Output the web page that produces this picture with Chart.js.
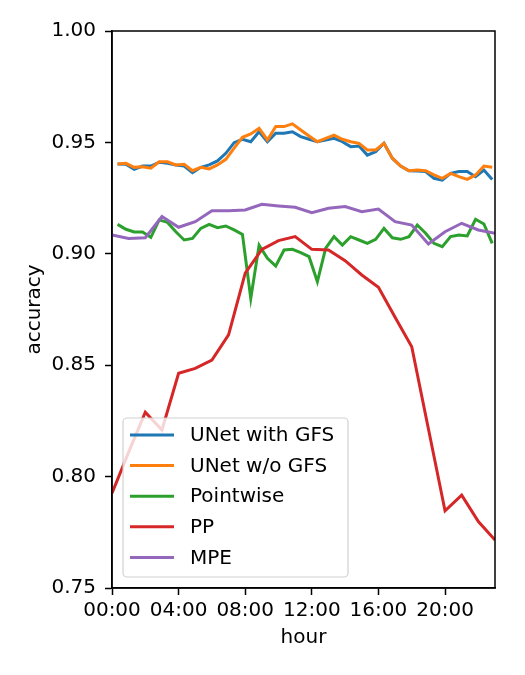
<!DOCTYPE html>
<html>
<head>
<meta charset="utf-8">
<script src="https://cdn.jsdelivr.net/npm/chart.js@4.4.1/dist/chart.umd.min.js"></script>
<style>
    html, body { margin: 0; padding: 0; background: #fff; }
</style>
</head>
<body>
<canvas id="acc-chart" width="525" height="675"></canvas>
<script>
// Zaman etiketleri (UNet / Pointwise yarım saatlik, PP / MPE saatlik)
const halfHourTimes = [
    '00:20', '00:50', '01:20', '01:50', '02:20', '02:50', '03:20', '03:50',
    '04:20', '04:50', '05:20', '05:50', '06:20', '06:50', '07:20', '07:50',
    '08:20', '08:50', '09:20', '09:50', '10:20', '10:50', '11:20', '11:50',
    '12:20', '12:50', '13:20', '13:50', '14:20', '14:50', '15:20', '15:50',
    '16:20', '16:50', '17:20', '17:50', '18:20', '18:50', '19:20', '19:50',
    '20:20', '20:50', '21:20', '21:50', '22:20', '22:50'
];
const hourTimes = [
    '00:00', '01:00', '02:00', '03:00', '04:00', '05:00', '06:00', '07:00',
    '08:00', '09:00', '10:00', '11:00', '12:00', '13:00', '14:00', '15:00',
    '16:00', '17:00', '18:00', '19:00', '20:00', '21:00', '22:00', '23:00'
];

const unetGfs = [
    0.9403, 0.9402, 0.9379, 0.9394, 0.9394, 0.9411, 0.9406, 0.9399,
    0.9394, 0.9364, 0.9388, 0.9399, 0.9417, 0.9451, 0.9499, 0.9514,
    0.9503, 0.9548, 0.9503, 0.9541, 0.9541, 0.9548, 0.9526, 0.9514,
    0.9503, 0.9511, 0.9518, 0.9503, 0.9481, 0.9484, 0.9443, 0.9458,
    0.9496, 0.9429, 0.9394, 0.9373, 0.9372, 0.9369, 0.9339, 0.9331,
    0.9361, 0.9369, 0.9369, 0.9346, 0.9376, 0.9334
];
const unetNoGfs = [
    0.9403, 0.9406, 0.9388, 0.9391, 0.9384, 0.9413, 0.9413, 0.9399,
    0.9402, 0.9373, 0.9388, 0.9381, 0.9399, 0.9424, 0.9474, 0.9523,
    0.9538, 0.9563, 0.9511, 0.9571, 0.9571, 0.9583, 0.9556, 0.9529,
    0.9503, 0.9518, 0.9533, 0.9514, 0.9503, 0.9496, 0.9466, 0.9466,
    0.9496, 0.9429, 0.9394, 0.9373, 0.9376, 0.9373, 0.9354, 0.9339,
    0.9361, 0.9346, 0.9334, 0.9354, 0.9394, 0.9388
];
const pointwise = [
    0.9132, 0.9110, 0.9098, 0.9098, 0.9074, 0.9152, 0.9141, 0.9099,
    0.9062, 0.9069, 0.9114, 0.9132, 0.9117, 0.9125, 0.9107, 0.9087,
    0.8800, 0.9039, 0.8980, 0.8945, 0.9017, 0.9020, 0.9005, 0.8987,
    0.8875, 0.9025, 0.9077, 0.9039, 0.9077, 0.9062, 0.9047, 0.9065,
    0.9114, 0.9072, 0.9065, 0.9077, 0.9129, 0.9092, 0.9047, 0.9032,
    0.9077, 0.9084, 0.9080, 0.9155, 0.9134, 0.9047
];
const pp = [
    0.7925, 0.8110, 0.8289, 0.8209, 0.8464, 0.8486, 0.8523, 0.8636,
    0.8913, 0.9020, 0.9059, 0.9077, 0.9020, 0.9017, 0.8969, 0.8905,
    0.8850, 0.8715, 0.8583, 0.8215, 0.7846, 0.7917, 0.7798, 0.7715
];
const mpe = [
    0.9084, 0.9069, 0.9072, 0.9167, 0.9119, 0.9144, 0.9193, 0.9193,
    0.9197, 0.9222, 0.9215, 0.9209, 0.9185, 0.9204, 0.9212, 0.9189,
    0.9201, 0.9144, 0.9129, 0.9044, 0.9099, 0.9137, 0.9107, 0.9092
];

const xTicks = [0, 4, 8, 12, 16, 20];
const yTicks = [0.75, 0.80, 0.85, 0.90, 0.95, 1.00];

const seriesNames = ['UNet with GFS', 'UNet w/o GFS', 'Pointwise', 'PP', 'MPE'];
const seriesColors = ['#1f77b4', '#ff7f0e', '#2ca02c', '#d62728', '#9467bd'];

function toHours(t) {
    const [h, m] = t.split(':').map(Number);
    return h + m / 60;
}

function toPoints(times, values) {
    return values.map((v, i) => ({ x: toHours(times[i]), y: v }));
}

const FONT = 'DejaVu Sans';

// Çerçeve (üst ve sağ kenar) ve grafik içi lejant
const framePlugin = {
    id: 'frame',
    afterDatasetsDraw(chart) {
        const { ctx, chartArea: a } = chart;
        ctx.save();
        ctx.strokeStyle = '#000';
        ctx.lineWidth = 1.5;
        ctx.strokeRect(a.left, a.top, a.right - a.left, a.bottom - a.top);

        // Lejant - sol alt köşe
        const boxW = 225, boxH = 159;
        const bx = a.left + 11;
        const by = a.bottom - 11 - boxH;
        ctx.beginPath();
        ctx.roundRect(bx, by, boxW, boxH, 4);
        ctx.fillStyle = 'rgba(255,255,255,0.8)';
        ctx.fill();
        ctx.strokeStyle = 'rgba(204,204,204,0.9)';
        ctx.lineWidth = 1.2;
        ctx.stroke();

        ctx.font = '20px "' + FONT + '"';
        ctx.textBaseline = 'middle';
        ctx.textAlign = 'left';
        seriesNames.forEach((name, i) => {
            const ry = by + 17 + i * 30.6;
            ctx.strokeStyle = seriesColors[i];
            ctx.lineWidth = 3;
            ctx.beginPath();
            ctx.moveTo(bx + 7, ry);
            ctx.lineTo(bx + 51, ry);
            ctx.stroke();
            ctx.fillStyle = '#000';
            ctx.fillText(name, bx + 67, ry + 1);
        });
        ctx.restore();
    }
};

const allSeries = [
    toPoints(halfHourTimes, unetGfs),
    toPoints(halfHourTimes, unetNoGfs),
    toPoints(halfHourTimes, pointwise),
    toPoints(hourTimes, pp),
    toPoints(hourTimes, mpe)
];

new Chart(document.getElementById('acc-chart'), {
    type: 'line',
    data: {
        datasets: allSeries.map((pts, i) => ({
            label: seriesNames[i],
            data: pts,
            borderColor: seriesColors[i],
            backgroundColor: seriesColors[i],
            borderWidth: 3,
            pointRadius: 0,
            tension: 0,
            fill: false,
            order: seriesNames.length - i
        }))
    },
    options: {
        responsive: false,
        devicePixelRatio: 1,
        animation: false,
        layout: { padding: { left: 0, top: 31, right: 30, bottom: 0 } },
        plugins: {
            legend: { display: false },
            tooltip: { enabled: false }
        },
        scales: {
            x: {
                type: 'linear',
                min: 0,
                max: 23,
                afterBuildTicks: s => { s.ticks = xTicks.map(v => ({ value: v })); },
                afterFit: s => { s.height = 87; },
                ticks: {
                    color: '#000',
                    font: { family: FONT, size: 20 },
                    padding: 4,
                    maxRotation: 0,
                    autoSkip: false,
                    callback: v => String(v).padStart(2, '0') + ':00'
                },
                grid: {
                    drawOnChartArea: false,
                    drawTicks: true,
                    tickLength: 7,
                    tickWidth: 1.5,
                    tickColor: '#000'
                },
                border: { display: true, color: '#000', width: 1.5 },
                title: {
                    display: true,
                    text: 'hour',
                    color: '#000',
                    font: { family: FONT, size: 20 },
                    padding: { top: 0, bottom: 25 }
                }
            },
            y: {
                type: 'linear',
                min: 0.75,
                max: 1.0,
                afterBuildTicks: s => { s.ticks = yTicks.map(v => ({ value: v })); },
                afterFit: s => { s.width = 112; },
                ticks: {
                    color: '#000',
                    font: { family: FONT, size: 20 },
                    padding: 9,
                    autoSkip: false,
                    callback: v => Number(v).toFixed(2)
                },
                grid: {
                    drawOnChartArea: false,
                    drawTicks: true,
                    tickLength: 7,
                    tickWidth: 1.5,
                    tickColor: '#000'
                },
                border: { display: true, color: '#000', width: 1.5 },
                title: {
                    display: true,
                    text: 'accuracy',
                    color: '#000',
                    font: { family: FONT, size: 20 },
                    padding: { top: 23, bottom: 0 }
                }
            }
        }
    },
    plugins: [framePlugin]
});
</script>
</body>
</html>
